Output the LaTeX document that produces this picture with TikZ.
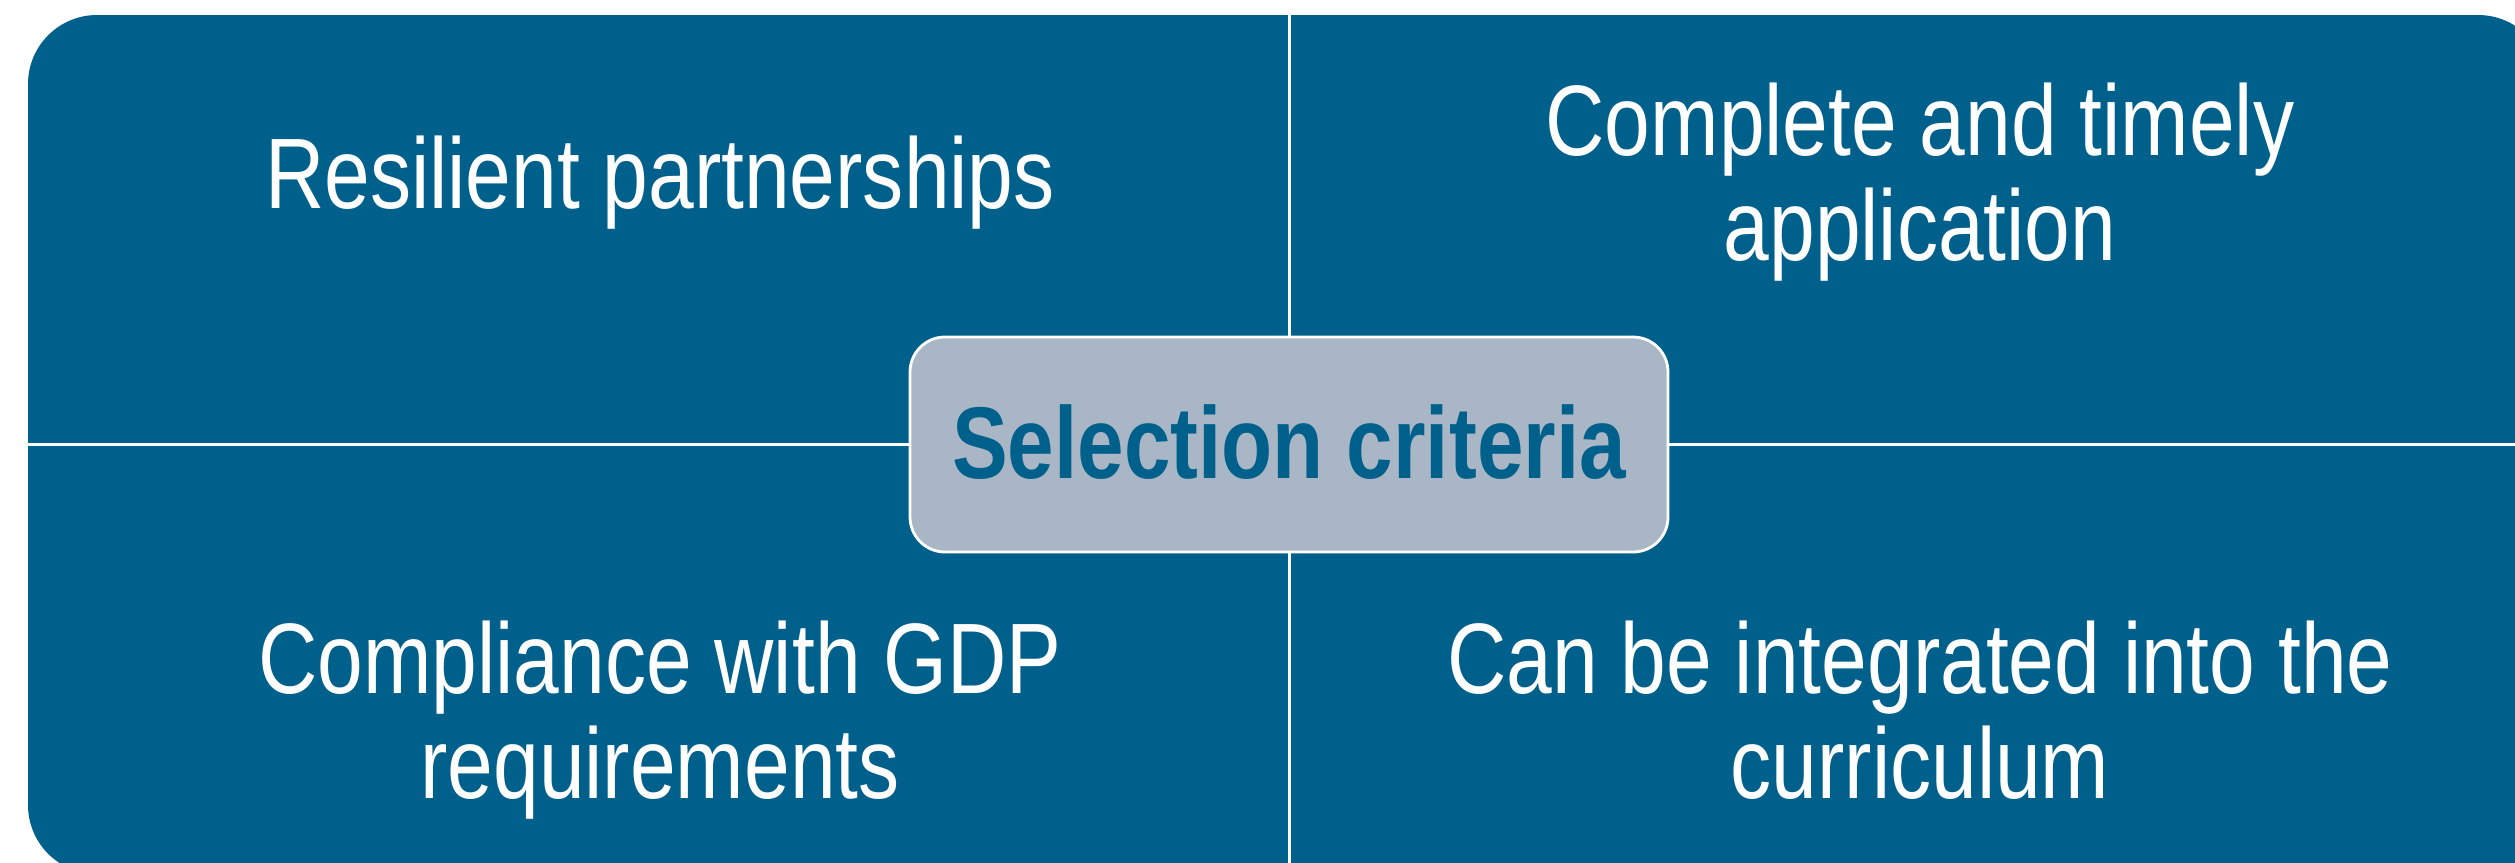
\documentclass[tikz,border=0pt]{standalone}
\usepackage{fontspec}
\setmainfont{Liberation Sans}[FakeStretch=0.82]
\usepackage{tikz}
\definecolor{matrixblue}{RGB}{0,96,140}
\definecolor{centergrey}{RGB}{169,182,198}

\begin{document}
\begin{tikzpicture}[
		quadtext/.style={anchor=north, inner sep=0pt, align=center, text=white, font=\fontsize{28.5}{30}\selectfont},
		centerbox/.style={draw=white, line width=0.028cm, fill=centergrey, rounded corners=0.35cm, minimum width=7.58cm, minimum height=2.15cm, inner sep=0pt, text height=0.74cm, text depth=0.07cm, text=matrixblue, font=\fontsize{29}{30}\selectfont\bfseries},
		divider/.style={draw=white, line width=0.03cm}
	]
	\useasboundingbox (0,0) rectangle (25.15,-8.62);
	\clip (0,0) rectangle (25.15,-8.62);
	\fill[matrixblue, rounded corners=0.69cm] (0.28,-0.15) rectangle (25.47,-8.74);
	\draw[divider] (12.89,-0.15) -- (12.89,-8.74);
	\draw[divider] (0.28,-4.44) -- (25.47,-4.44);

	\node[quadtext] (resilient) at (6.60,-1.35) {Resilient partnerships};
	\node[quadtext] (timely) at (19.20,-0.82) {Complete and timely\\application};
	\node[quadtext] (gdp) at (6.60,-6.20) {Compliance with GDP\\requirements};
	\node[quadtext] (curriculum) at (19.20,-6.20) {Can be integrated into the\\curriculum};

	\node[centerbox] (criteria) at (12.89,-4.445) {Selection criteria};
\end{tikzpicture}
\end{document}
